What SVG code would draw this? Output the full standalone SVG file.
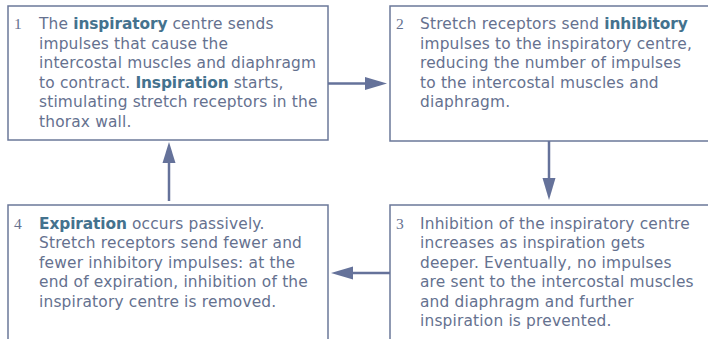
<svg xmlns="http://www.w3.org/2000/svg" width="708" height="339" viewBox="0 0 708 339">
<defs>
<style>
.box{fill:#ffffff;stroke:#6b7899;stroke-width:1.5}
.t{font-family:"DejaVu Sans","Noto Sans",sans-serif;font-size:15.4px;letter-spacing:0.18px;fill:#65718f}
.n{font-family:"Liberation Serif","DejaVu Serif",serif;font-size:15.5px;fill:#65718f}
.b{font-weight:bold;letter-spacing:-0.1px;fill:#44728e}
.c{stroke:#65729a;stroke-width:2.5;fill:none}
.h{fill:#65729a}
</style>
</defs>
<rect width="708" height="339" fill="#ffffff"/>
<g id="node1">
<rect class="box" x="8" y="6" width="320" height="134"/>
<text class="n" x="14" y="29">1</text>
<text class="t" x="39" y="29">The <tspan class="b">inspiratory</tspan> centre sends</text>
<text class="t" x="39" y="48.5">impulses that cause the</text>
<text class="t" x="39" y="68">intercostal muscles and diaphragm</text>
<text class="t" x="39" y="87.5">to contract. <tspan class="b">Inspiration</tspan> starts,</text>
<text class="t" x="39" y="107">stimulating stretch receptors in the</text>
<text class="t" x="39" y="126.5">thorax wall.</text>
</g>
<g id="node2">
<path class="box" d="M712,6 H390 V141 H712"/>
<text class="n" x="396" y="29">2</text>
<text class="t" x="420" y="29">Stretch receptors send <tspan class="b">inhibitory</tspan></text>
<text class="t" x="420" y="48.5">impulses to the inspiratory centre,</text>
<text class="t" x="420" y="68">reducing the number of impulses</text>
<text class="t" x="420" y="87.5">to the intercostal muscles and</text>
<text class="t" x="420" y="107">diaphragm.</text>
</g>
<g id="node3">
<path class="box" d="M712,205 H390 V345"/>
<text class="n" x="396" y="228.5">3</text>
<text class="t" x="420" y="228.5">Inhibition of the inspiratory centre</text>
<text class="t" x="420" y="248">increases as inspiration gets</text>
<text class="t" x="420" y="267.5">deeper. Eventually, no impulses</text>
<text class="t" x="420" y="287">are sent to the intercostal muscles</text>
<text class="t" x="420" y="306.5">and diaphragm and further</text>
<text class="t" x="420" y="326">inspiration is prevented.</text>
</g>
<g id="node4">
<path class="box" d="M8,345 V205 H328 V345"/>
<text class="n" x="14" y="228.5">4</text>
<text class="t" x="39" y="228.5"><tspan class="b">Expiration</tspan> occurs passively.</text>
<text class="t" x="39" y="248">Stretch receptors send fewer and</text>
<text class="t" x="39" y="267.5">fewer inhibitory impulses: at the</text>
<text class="t" x="39" y="287">end of expiration, inhibition of the</text>
<text class="t" x="39" y="306.5">inspiratory centre is removed.</text>
</g>
<g id="connectors">
<line class="c" x1="328" y1="83.5" x2="366" y2="83.5"/>
<polygon class="h" points="365,77 387,83.5 365,90"/>
<line class="c" x1="549" y1="141" x2="549" y2="180"/>
<polygon class="h" points="542.5,178 555.5,178 549,200"/>
<line class="c" x1="390" y1="273" x2="352" y2="273"/>
<polygon class="h" points="353,266.5 331,273 353,279.5"/>
<line class="c" x1="169" y1="201" x2="169" y2="162"/>
<polygon class="h" points="162.5,163 175.5,163 169,142"/>
</g>
</svg>
